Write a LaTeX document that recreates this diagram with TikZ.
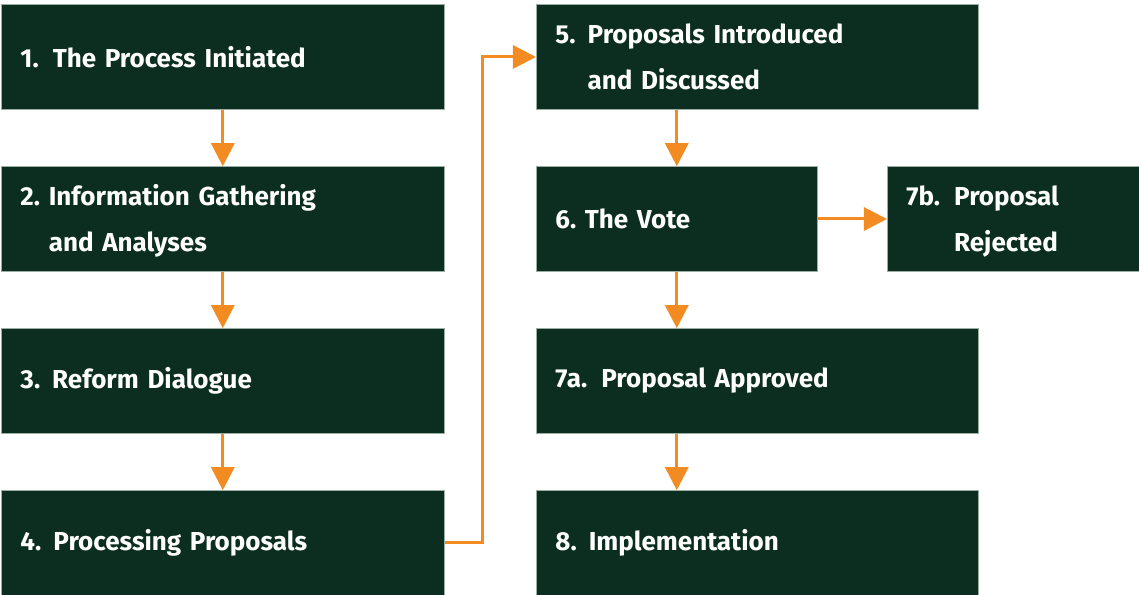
\documentclass[tikz,border=0pt]{standalone}
\usepackage{fontspec}
\setmainfont{Fira Sans}
\usetikzlibrary{arrows.meta}

\definecolor{stagegreen}{HTML}{0B2E20}
\definecolor{stageedge}{HTML}{9AAEA4}
\definecolor{floworange}{HTML}{F28C22}

\begin{document}
\begin{tikzpicture}
    \tikzset{stage/.style={draw=stageedge,line width=0.4pt,fill=stagegreen,text=white,anchor=west,
        minimum height=2.625cm,inner xsep=0.48cm,inner ysep=0pt,text width=#1,align=left,
        font=\fontsize{18.5}{33}\selectfont\bfseries},
      flow/.style={draw=floworange,line width=0.075cm,-{Triangle[width=0.58cm,length=0.58cm]}}}
    \useasboundingbox (0, 0) rectangle (28.475, 14.875);
    % left column
    \node [stage=10.115cm] (init) at (0.025, 13.45) {1.\hspace{0.35cm}The Process Initiated};
    \node [stage=10.115cm] (info) at (0.025, 9.4) {\begin{tabular}{@{}l@{\ }l@{}}2.&Information Gathering\\&and Analyses\end{tabular}};
    \node [stage=10.115cm] (dial) at (0.025, 5.35) {3.\hspace{0.3cm}Reform Dialogue};
    \node [stage=10.115cm] (proc) at (0.025, 1.3) {4.\hspace{0.3cm}Processing Proposals};
    % right column
    \node [stage=10.09cm] (intro) at (13.4, 13.45) {\begin{tabular}{@{}l@{\hspace{0.3cm}}l@{}}5.&Proposals Introduced\\&and Discussed\end{tabular}};
    \node [stage=6.065cm] (vote) at (13.4, 9.4) {6.\ The Vote};
    \node [stage=5.34cm] (rej) at (22.175, 9.4) {\begin{tabular}{@{}l@{\hspace{0.35cm}}l@{}}7b.&Proposal\\&Rejected\end{tabular}};
    \node [stage=10.09cm] (appr) at (13.4, 5.35) {7a.\hspace{0.35cm}Proposal Approved};
    \node [stage=10.09cm] (impl) at (13.4, 1.3) {8.\hspace{0.3cm}Implementation};
    % connectors
    \draw [flow] (init) -- (info);
    \draw [flow] (info) -- (dial);
    \draw [flow] (dial) -- (proc);
    \draw [flow] (proc.east) -- ++(0.95, 0) |- (intro);
    \draw [flow] (intro.south -| vote) -- (vote);
    \draw [flow] (vote) -- (rej);
    \draw [flow] (vote) -- (vote |- appr.north);
    \draw [flow] (appr.south -| vote) -- (vote |- impl.north);
\end{tikzpicture}
\end{document}
